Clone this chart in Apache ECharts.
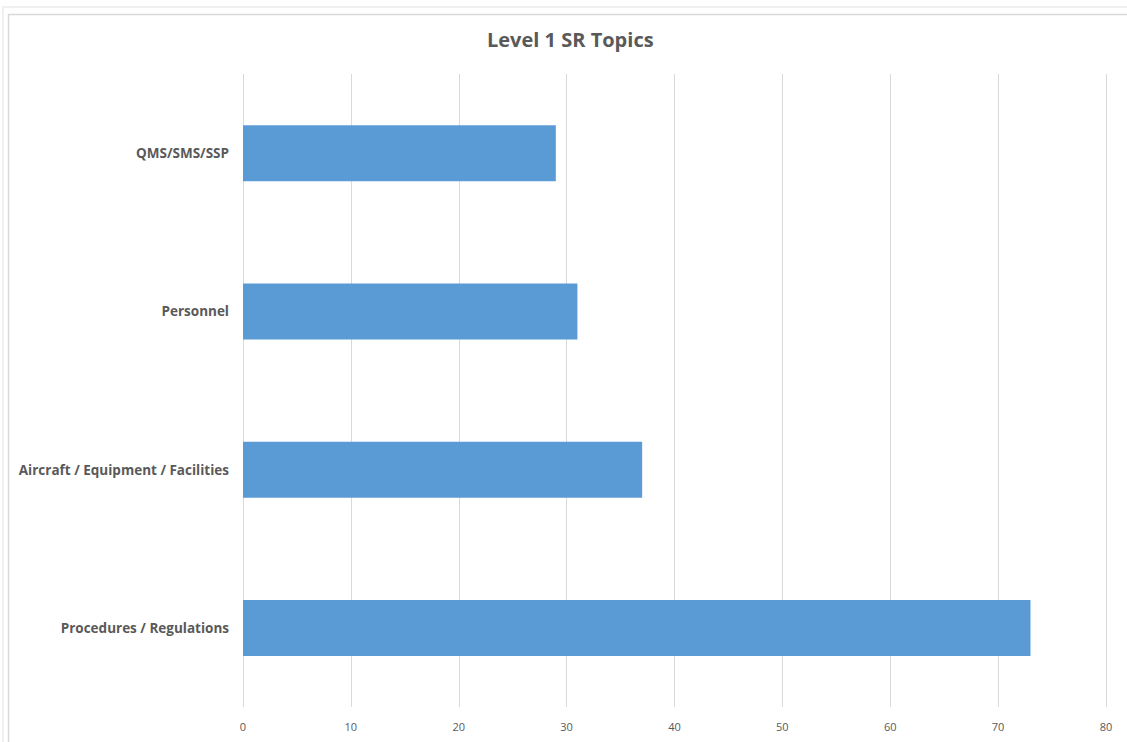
<!DOCTYPE html>
<html>
<head>
<meta charset="utf-8">
<script src="https://cdn.jsdelivr.net/npm/echarts@6/dist/echarts.min.js"></script>
<style>
  html, body { margin: 0; padding: 0; background: #fff; }
  #chart { width: 1127px; height: 742px; }
</style>
</head>
<body>
<div id="chart"></div>
<script>
var categories = ['Procedures / Regulations', 'Aircraft / Equipment / Facilities', 'Personnel', 'QMS/SMS/SSP'];
var counts = [73, 37, 31, 29];
var xTicks = { min: 0, max: 80, interval: 10 };

var chart = echarts.init(document.getElementById('chart'), null, { renderer: 'svg' });
var text = '#595959';
var font = '"Open Sans", "Liberation Sans", sans-serif';

chart.setOption({
  animation: false,
  title: {
    text: 'Level 1 SR Topics',
    left: 482,
    top: 24,
    textStyle: { color: text, fontSize: 20, fontWeight: 'bold', fontFamily: font }
  },
  // chart frame like the spreadsheet screenshot
  graphic: [
    { type: 'rect', shape: { x: 3, y: 7, width: 1140, height: 760 }, style: { fill: 'none', stroke: '#f0f0f0', lineWidth: 2 } },
    { type: 'rect', shape: { x: 8.5, y: 14.5, width: 1140, height: 760 }, style: { fill: 'none', stroke: '#d9d9d9', lineWidth: 1.5 } }
  ],
  grid: { left: 243, right: 21, top: 74, bottom: 35 },
  xAxis: {
    type: 'value',
    min: xTicks.min,
    max: xTicks.max,
    interval: xTicks.interval,
    axisLine: { show: false },
    axisTick: { show: false },
    axisLabel: { color: text, fontSize: 11, fontFamily: font, margin: 14 },
    splitLine: { lineStyle: { color: '#d9d9d9', width: 1 } }
  },
  yAxis: {
    type: 'category',
    data: categories,
    axisLine: { show: false },
    axisTick: { show: false },
    axisLabel: { color: text, fontSize: 13.5, fontWeight: 'bold', fontFamily: font, margin: 14 }
  },
  series: [{
    type: 'bar',
    data: counts,
    barWidth: 56,
    itemStyle: { color: '#5b9bd5' }
  }]
});
</script>
</body>
</html>
